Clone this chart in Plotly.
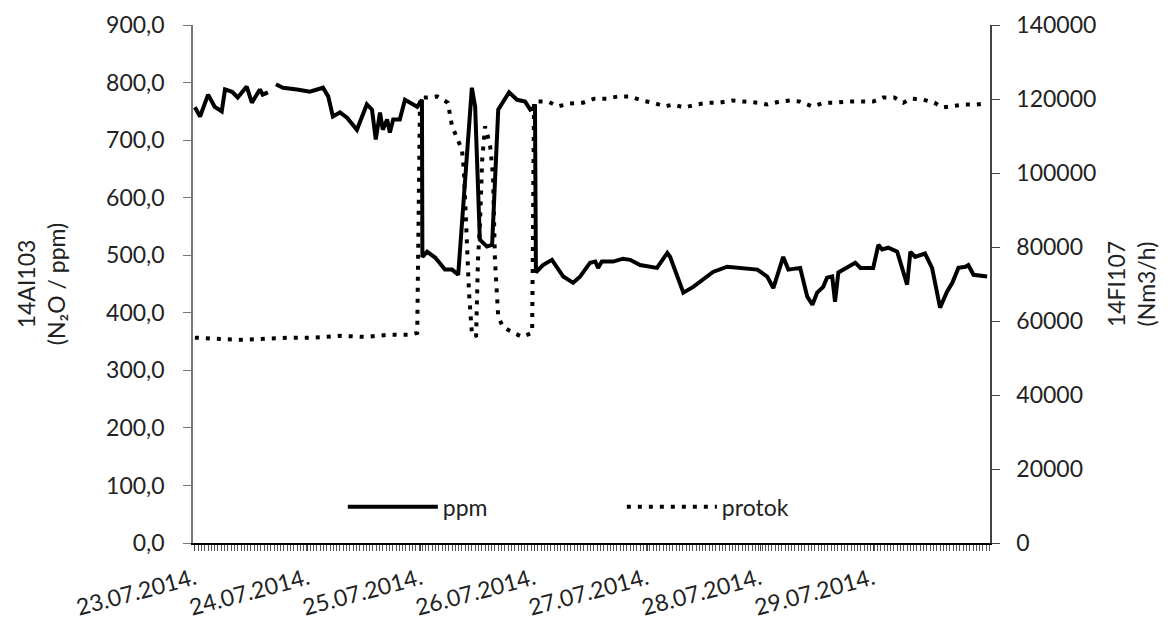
import plotly.graph_objects as go

# x positions in hours since 23.07.2014 00:00
ppm_hours = [0, 1.1, 2.8, 4.2, 5.7, 6.4, 7.9, 9.1, 11.0, 12.1, 13.8, 14.4, 15.5, 16.5,
             17.2, 18.7, 21.7, 24.4, 27.2, 28.3, 29.3, 30.8, 32.3, 34.4, 36.5, 37.6, 38.4,
             39.3, 39.9, 40.8, 41.4, 42.1, 43.5, 44.6, 45.7, 47.2, 48.2, 48.3, 49.3, 51.0,
             53.1, 54.6, 55.9, 58.8, 59.5, 60.5, 62.0, 63.1, 64.4, 65.4, 66.7, 68.4, 70.1,
             71.2, 72.2, 72.4, 73.9, 75.8, 78.2, 80.3, 81.8, 83.9, 85.0, 85.6, 86.4, 88.8,
             90.9, 92.4, 94.5, 98.1, 100.3, 100.9, 103.7, 105.8, 107.3, 108.7, 110.0, 113.0,
             116.4, 119.4, 121.5, 122.8, 124.9, 126.0, 128.5, 130.0, 131.1, 132.1, 133.4,
             134.2, 135.3, 135.9, 136.6, 138.5, 140.2, 141.3, 144.0, 145.1, 145.9, 147.2,
             149.1, 151.2, 151.9, 152.9, 155.0, 156.5, 158.2, 159.7, 160.8, 162.1, 163.6,
             164.2, 165.3, 168.2]
ppm_values = [757, 741, 779, 758, 750, 788, 784, 774, 793, 765, 788, 779, 783, None,
              797, 791, 788, 784, 791, 776, 741, 748, 739, 718, 762, 753, 701,
              748, 718, 736, 713, 736, 736, 770, 765, 758, 770, 497, 506, 496,
              475, 475, 466, 791, 758, 527, 515, 518, 753, 765, 783, 770, 767,
              753, 757, 470, 483, 492, 463, 452, 463, 487, 489, 478, 489, 489,
              494, 492, 483, 478, 504, 497, 435, 445, 454, 463, 471, 480,
              478, 475, 463, 443, 497, 475, 478, 428, 414, 435, 445,
              461, 463, 419, 470, 478, 487, 478, 478, 518, 510, 513,
              506, 449, 506, 497, 503, 478, 409, 437, 452, 478, 480,
              483, 466, 463]

protok_hours = [0, 4.2, 9.6, 14.9, 20.2, 25.5, 30.8, 36.1, 41.4, 45.7, 47.2, 47.8,
                49.3, 51.4, 53.7, 54.6, 55.9, 56.7, 57.1, 57.8, 58.2, 58.8, 59.7, 60.1,
                60.5, 61.0, 61.6, 62.0, 62.7, 63.3, 63.7, 64.4, 65.4, 67.3, 69.5, 71.6,
                72.0, 73.3, 75.0, 77.1, 79.6, 82.4, 84.8, 87.5, 89.9, 92.4, 94.9, 97.3,
                99.8, 101.5, 103.9, 106.4, 109.0, 111.3, 114.1, 116.6, 119.4, 121.5,
                124.1, 126.4, 128.5, 131.1, 133.6, 135.9, 138.7, 141.5, 144.0, 146.1,
                148.5, 150.4, 151.9, 154.4, 157.0, 158.7, 161.0, 163.3, 165.9, 168.0]
protok_values = [55500, 55200, 54900, 55200, 55500, 55500, 56000, 55700, 56300, 56300, 56800, 120400,
                 120400, 120700, 119000, 112600, 109000, 106300, 100900, 80100, 67600, 56800, 55700, 76600,
                 85500, 103600, 112600, 110900, 107100, 99000, 76600, 61100, 58400, 57000, 55700, 56800,
                 119300, 119300, 119300, 118000, 118800, 119000, 120100, 120100, 120700, 120700, 119600, 119000,
                 118000, 118500, 117700, 118500, 119000, 119000, 119600, 119300, 119000, 118500,
                 119300, 119600, 119300, 118000, 119000, 119000, 119300, 119300, 119300, 120400,
                 120400, 119000, 120100, 119900, 119000, 117700, 118000, 118500, 118500, 118800]

day_ticks = [0, 24, 48, 72, 96, 120, 144]
day_labels = ["23.07.2014.", "24.07.2014.", "25.07.2014.", "26.07.2014.",
              "27.07.2014.", "28.07.2014.", "29.07.2014."]

FONT = "Lato"
TXT = "#222222"
FS = 23

fig = go.Figure()
fig.add_trace(go.Scatter(x=ppm_hours, y=ppm_values, name="ppm", mode="lines",
                         line=dict(color="black", width=4), connectgaps=False))
fig.add_trace(go.Scatter(x=protok_hours, y=protok_values, name="protok", mode="lines",
                         line=dict(color="black", width=4, dash="4px,7px"), yaxis="y2"))

fig.update_layout(
    width=1166, height=621,
    margin=dict(l=185, r=184, t=17, b=86, autoexpand=False),
    paper_bgcolor="white", plot_bgcolor="white",
    font=dict(family=FONT, size=FS, color=TXT),
    separators=",.",
    showlegend=True,
    legend=dict(orientation="h", x=0.188, y=0.07, xanchor="left", yanchor="middle",
                entrywidth=174, entrywidthmode="pixels", itemwidth=90,
                font=dict(family=FONT, size=FS, color=TXT), bgcolor="rgba(0,0,0,0)"),
    xaxis=dict(range=[-0.4, 168.8], showgrid=False, zeroline=False,
               showline=True, linecolor="black", linewidth=1.5,
               tickmode="array", tickvals=day_ticks, ticktext=day_labels,
               tickangle=-15, ticks="outside", ticklen=6, tickcolor="#444",
               ticklabelstandoff=6,
               minor=dict(ticks="outside", ticklen=6, dtick=0.7, tickcolor="#555", tickwidth=1),
               tickfont=dict(family=FONT, size=FS, color=TXT)),
    yaxis=dict(range=[0, 900], dtick=100, tickformat=".1f", showgrid=False, zeroline=False,
               showline=True, linecolor="#777", linewidth=1.5,
               ticks="outside", ticklen=8, tickcolor="#777", ticklabelstandoff=14,
               title=dict(text="14AI103<br>(N₂O / ppm)", standoff=34,
                          font=dict(family=FONT, size=FS, color=TXT)),
               tickfont=dict(family=FONT, size=FS, color=TXT)),
    yaxis2=dict(range=[0, 140000], dtick=20000, tickformat="d", overlaying="y", side="right",
                showgrid=False, zeroline=False,
                showline=True, linecolor="#444", linewidth=1.5,
                ticks="outside", ticklen=8, tickcolor="#444", ticklabelstandoff=12,
                title=dict(text="14FI107<br>(Nm3/h)", standoff=14,
                           font=dict(family=FONT, size=FS, color=TXT)),
                tickfont=dict(family=FONT, size=FS, color=TXT)),
)

fig.write_html("out.html")
